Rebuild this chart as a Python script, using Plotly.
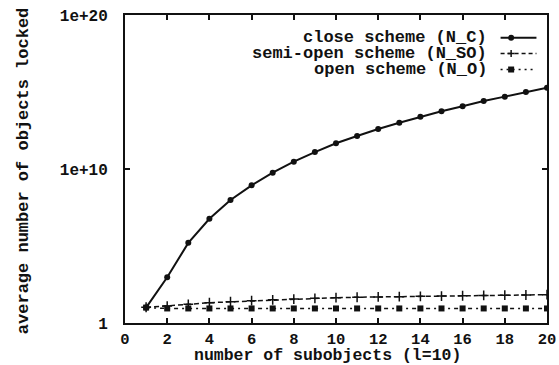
import plotly.graph_objects as go

subobjects = list(range(1, 21))
close_scheme = [1.0e1, 9.3e2, 1.6e5, 5.9e6, 9.8e7, 8.7e8, 5.8e9, 3.0e10, 1.26e11, 4.7e11,
                1.4e12, 4.0e12, 1.0e13, 2.5e13, 5.6e13, 1.2e14, 2.6e14, 5.0e14, 1.0e15, 1.9e15]
semi_open_scheme = [10.5, 12.6, 16.2, 20.9, 24, 28, 32, 36, 40, 44,
                    47, 49, 51, 54, 56, 59, 62, 64, 66, 69]
open_scheme = [10, 8.8, 8.8, 8.8, 8.8, 8.8, 8.8, 8.8, 8.8, 8.8,
               8.8, 8.8, 8.8, 8.8, 8.8, 8.8, 8.8, 8.8, 8.8, 8.8]
series_names = ["close scheme (N_C)", "semi-open scheme (N_SO)", "open scheme (N_O)"]
x_ticks = list(range(0, 21, 2))
y_tickvals = [1, 1e10, 1e20]
y_ticktext = ["1", "1e+10", "1e+20"]
x_title = "number of subobjects (l=10)"
y_title = "average number of objects locked"

FONT = "Liberation Mono"
BLACK = "#111111"

fig = go.Figure()
fig.add_trace(go.Scatter(x=subobjects, y=close_scheme, mode="lines+markers",
                         line=dict(color=BLACK, width=2),
                         marker=dict(symbol="circle", size=6, color=BLACK),
                         name=series_names[0], showlegend=False))
fig.add_trace(go.Scatter(x=subobjects, y=semi_open_scheme, mode="lines+markers",
                         line=dict(color=BLACK, width=1.5, dash="5px,3px"),
                         marker=dict(symbol="cross-thin", size=7, color=BLACK,
                                     line=dict(color=BLACK, width=1.5)),
                         name=series_names[1], showlegend=False))
fig.add_trace(go.Scatter(x=subobjects, y=open_scheme, mode="lines+markers",
                         line=dict(color=BLACK, width=1.5, dash="4px,4px,2px,4px"),
                         marker=dict(symbol="square", size=6, color=BLACK),
                         name=series_names[2], showlegend=False))

# legend drawn with right-aligned text and sample to the right (gnuplot style)
legend_rows_y = [0.926, 0.875, 0.823]
dashes = ["solid", "4px,3px", "2px,4px"]
shapes = []
annotations = []
for i, (name, yy) in enumerate(zip(series_names, legend_rows_y)):
    annotations.append(dict(x=0.860, y=yy, xref="paper", yref="paper", text=name,
                            showarrow=False, xanchor="right", yanchor="middle",
                            height=15, borderpad=0,
                            font=dict(family=FONT, size=17, color=BLACK, weight="bold")))
    shapes.append(dict(type="line", xref="paper", yref="paper", x0=0.89, x1=0.975,
                       y0=yy, y1=yy, line=dict(color=BLACK, width=2 if i == 0 else 1.5,
                                               dash=dashes[i])))
mx = 0.915
shapes.append(dict(type="circle", xref="paper", yref="paper", xsizemode="pixel",
                   ysizemode="pixel", xanchor=mx, yanchor=legend_rows_y[0],
                   x0=-3, x1=3, y0=-3, y1=3, fillcolor=BLACK, line=dict(width=0)))
shapes.append(dict(type="line", xref="paper", yref="paper", xsizemode="pixel",
                   ysizemode="pixel", xanchor=mx, yanchor=legend_rows_y[1],
                   x0=-3.5, x1=3.5, y0=0, y1=0, line=dict(color=BLACK, width=1.5)))
shapes.append(dict(type="line", xref="paper", yref="paper", xsizemode="pixel",
                   ysizemode="pixel", xanchor=mx, yanchor=legend_rows_y[1],
                   x0=0, x1=0, y0=-3.5, y1=3.5, line=dict(color=BLACK, width=1.5)))
shapes.append(dict(type="rect", xref="paper", yref="paper", xsizemode="pixel",
                   ysizemode="pixel", xanchor=mx, yanchor=legend_rows_y[2],
                   x0=-3, x1=3, y0=-3, y1=3, fillcolor=BLACK, line=dict(width=0)))

# axis titles
annotations.append(dict(x=0.481, y=-0.1364, xref="paper", yref="paper", text=x_title,
                        showarrow=False, xanchor="center", yanchor="bottom",
                        height=17, borderpad=0,
                        font=dict(family=FONT, size=16.5, color=BLACK, weight="bold")))
annotations.append(dict(x=-0.2417, y=0.493, xref="paper", yref="paper", text=y_title,
                        showarrow=False, xanchor="center", yanchor="middle", textangle=-90,
                        font=dict(family=FONT, size=17, color=BLACK, weight="bold")))

fig.update_layout(
    width=559, height=365,
    margin=dict(l=125, r=12, t=15, b=42),
    paper_bgcolor="white", plot_bgcolor="white",
    font=dict(family=FONT, size=16, color=BLACK, weight="bold"),
    shapes=shapes, annotations=annotations,
    xaxis=dict(range=[0, 20], tickvals=x_ticks, ticks="inside", ticklen=5,
               tickcolor=BLACK, tickwidth=1.5, mirror="ticks", showline=True,
               linecolor=BLACK, linewidth=2, showgrid=False, zeroline=False,
               automargin=False,
               tickfont=dict(family=FONT, size=15.5, weight="bold"),
               ticklabelstandoff=0),
    yaxis=dict(type="log", range=[0, 20], tickvals=y_tickvals, ticktext=y_ticktext,
               ticks="inside", ticklen=5, tickcolor=BLACK, tickwidth=1.5,
               mirror="ticks", showline=True, linecolor=BLACK, linewidth=2,
               showgrid=False, zeroline=False, ticklabelstandoff=12,
               automargin=False,
               tickfont=dict(family=FONT, size=16, weight="bold")),
)

fig.write_html("out.html", config={"displayModeBar": False},
               post_script="document.body.style.margin='0';document.body.style.overflow='hidden';")
